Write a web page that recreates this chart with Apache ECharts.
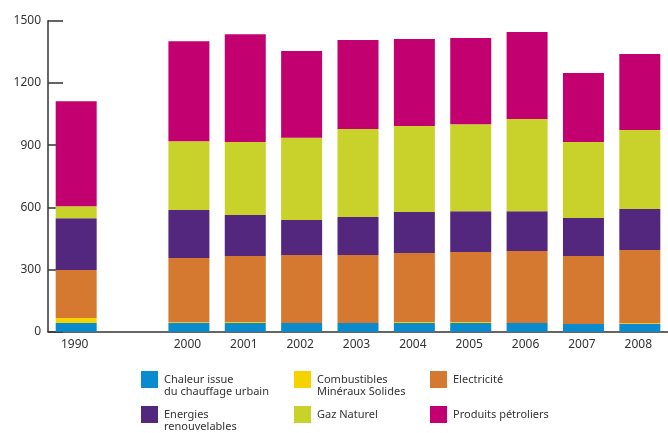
<!DOCTYPE html>
<html>
<head>
<meta charset="utf-8">
<script src="https://cdn.jsdelivr.net/npm/echarts@6/dist/echarts.min.js"></script>
<style>
  html, body { margin: 0; padding: 0; background: #fff; }
  #chart { width: 668px; height: 433px; }
</style>
</head>
<body>
<div id="chart"></div>
<script>
// Years on the category axis; the blank slot marks the gap between 1990 and 2000
const years = ['1990', '', '2000', '2001', '2002', '2003', '2004', '2005', '2006', '2007', '2008'];
const yTicks = [0, 300, 600, 900, 1200, 1500];

// Consumption by energy source
const chaleur      = [42, null, 42, 42, 42, 42, 42, 42, 42, 37, 37];
const combustibles = [24, null, 4, 5, 0, 0, 5, 5, 0, 0, 4];
const electricite  = [231, null, 309, 318, 328, 328, 333, 337, 347, 328, 353];
const renouvelable = [250, null, 232, 198, 169, 183, 197, 197, 192, 183, 198];
const gaz          = [58, null, 332, 352, 396, 425, 415, 420, 445, 367, 381];
const petrole      = [506, null, 482, 520, 419, 429, 420, 415, 420, 333, 366];

const seriesDefs = [
  { name: 'Chaleur issue du chauffage urbain', label: 'Chaleur issue\ndu chauffage urbain', data: chaleur, color: '#0a8bcd', pos: [141, 371] },
  { name: 'Combustibles Minéraux Solides', label: 'Combustibles\nMinéraux Solides', data: combustibles, color: '#f6d300', pos: [294, 371] },
  { name: 'Electricité', label: 'Electricité', data: electricite, color: '#d4792f', pos: [430, 371] },
  { name: 'Energies renouvelables', label: 'Energies\nrenouvelables', data: renouvelable, color: '#52277d', pos: [141, 406] },
  { name: 'Gaz Naturel', label: 'Gaz Naturel', data: gaz, color: '#c9d22b', pos: [294, 406] },
  { name: 'Produits pétroliers', label: 'Produits pétroliers', data: petrole, color: '#c3006f', pos: [430, 406] }
];

const font = 'Noto Sans';
const chart = echarts.init(document.getElementById('chart'), null, { renderer: 'canvas' });

// Two-line entries get a blank first line so the first text line sits level
// with the swatch; the taller item box is shifted up to keep the swatch in place.
const legends = seriesDefs.map(s => {
  const twoLines = s.label.indexOf('\n') >= 0;
  return {
    data: [s.name],
    left: s.pos[0],
    top: twoLines ? s.pos[1] - 9.5 : s.pos[1],
    padding: 0,
    itemWidth: 17,
    itemHeight: 17,
    itemGap: 0,
    selectedMode: false,
    icon: 'rect',
    formatter: () => (twoLines ? ' \n' : '') + s.label,
    textStyle: {
      fontFamily: font,
      fontSize: 11,
      color: '#333',
      lineHeight: 12,
      padding: [0, 0, 0, 1]
    }
  };
});

chart.setOption({
  animation: false,
  backgroundColor: '#fff',
  color: seriesDefs.map(s => s.color),
  legend: legends,
  grid: { left: 48, top: 20.7, width: 624, height: 311, containLabel: false },
  xAxis: {
    type: 'category',
    data: years,
    axisLine: { lineStyle: { color: '#333', width: 1.5 } },
    axisTick: { inside: true, length: 6, lineStyle: { color: '#333' } },
    axisLabel: { fontFamily: font, fontSize: 12, color: '#333', margin: 7, padding: [0, 3, 0, 0] }
  },
  yAxis: {
    type: 'value',
    min: yTicks[0],
    max: yTicks[yTicks.length - 1],
    interval: yTicks[1] - yTicks[0],
    axisLine: { show: true, lineStyle: { color: '#333', width: 1.5 } },
    axisTick: { show: true, inside: true, length: 15, lineStyle: { color: '#333', width: 1.5 } },
    axisLabel: { fontFamily: font, fontSize: 12, color: '#333', margin: 7, formatter: v => String(v) },
    splitLine: { show: false }
  },
  series: seriesDefs.map(s => ({
    name: s.name,
    type: 'bar',
    stack: 'total',
    barWidth: 41,
    data: s.data,
    itemStyle: { color: s.color }
  }))
});
</script>
</body>
</html>
